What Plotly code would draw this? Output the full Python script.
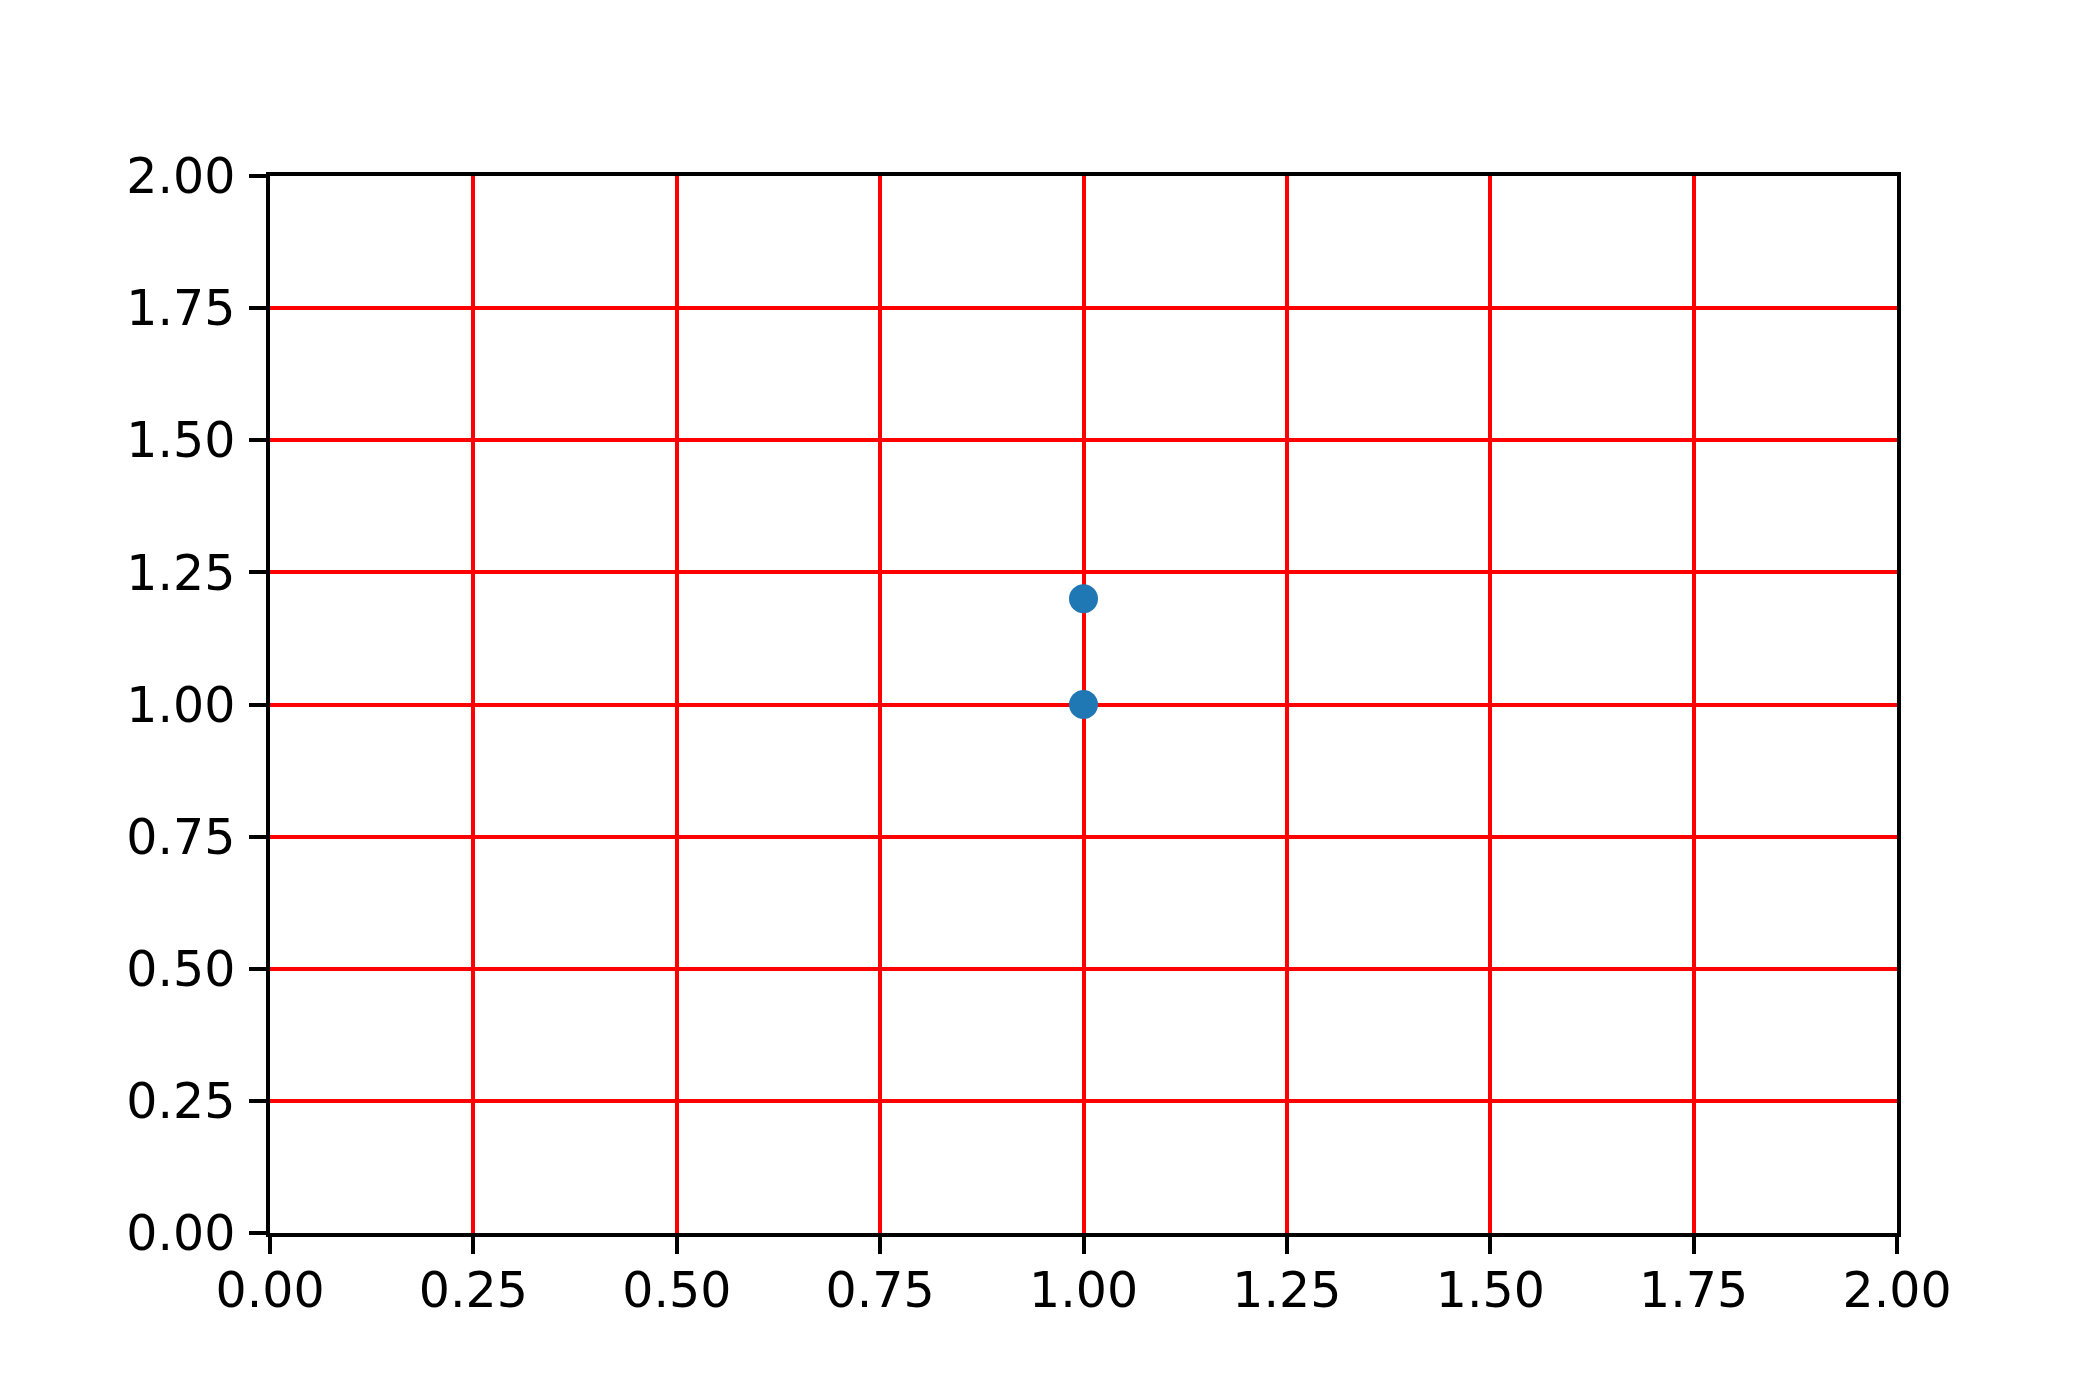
import plotly.graph_objects as go

# points
x_pts = [1.0, 1.0]
y_pts = [1.0, 1.2]

tick_vals = [0.0, 0.25, 0.5, 0.75, 1.0, 1.25, 1.5, 1.75, 2.0]
tick_text = ["0.00", "0.25", "0.50", "0.75", "1.00", "1.25", "1.50", "1.75", "2.00"]

W, H = 2100, 1400
lw = 3.6

fig = go.Figure()
fig.add_trace(go.Scatter(x=x_pts, y=y_pts, mode="markers",
                         marker=dict(size=29, color="#1f77b4", line=dict(width=0)),
                         showlegend=False))

axis_style = dict(range=[0, 2], tickvals=tick_vals, ticktext=tick_text,
                  showgrid=True, gridcolor="red", gridwidth=lw,
                  zeroline=False, showline=True, linecolor="black", linewidth=lw,
                  mirror=True, ticks="outside", ticklen=17, tickwidth=lw, tickcolor="black",
                  tickfont=dict(family="DejaVu Sans", size=49, color="black"))

fig.update_xaxes(**axis_style, ticklabelstandoff=-6)
fig.update_yaxes(**axis_style, ticklabelstandoff=4)

fig.update_layout(width=W, height=H, template="simple_white",
                  plot_bgcolor="white", paper_bgcolor="white",
                  margin=dict(l=262, r=211, t=168, b=175, pad=0))

fig.write_html("out.html")
